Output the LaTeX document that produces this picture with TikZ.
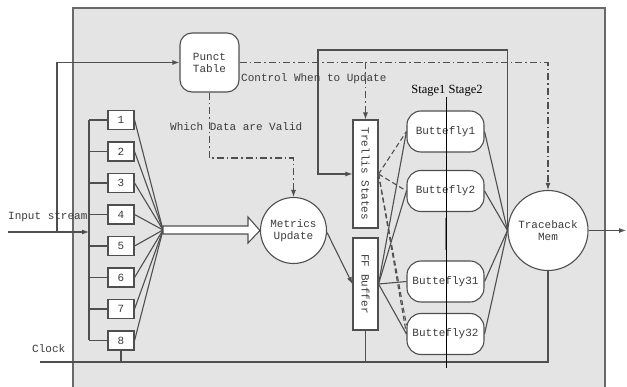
\documentclass[tikz,border=0pt]{standalone}
\usepackage{fontspec}
\setmainfont{Liberation Serif}
\setmonofont{Liberation Mono}
\usepackage{graphicx}
\usetikzlibrary{arrows.meta,calc}
\definecolor{linec}{HTML}{4F4F4F}
\definecolor{panel}{HTML}{E4E4E4}
\definecolor{txtc}{HTML}{3C3C3C}
\begin{document}
\begin{tikzpicture}[x=1pt,y=-1pt,
  ln/.style={draw=linec, line width=1.1pt},
  tip/.style={-{Latex[length=7pt,width=5pt]}},
  dd/.style={draw=linec, line width=1.1pt, dash pattern=on 7pt off 3pt on 1.5pt off 3pt},
  dsh/.style={draw=linec, line width=1.1pt, dash pattern=on 5pt off 3pt},
  mono/.style={font=\ttfamily\fontsize{11}{12}\selectfont, text=txtc},
  numbox/.style={mono, draw=linec, line width=1.1pt, fill=white, minimum width=26pt, minimum height=19pt, inner sep=0pt},
  bfly/.style={mono, draw=linec, line width=1.1pt, fill=white, rounded corners=14pt, minimum width=77pt, minimum height=41pt, inner sep=1pt},
  vbox/.style={mono, draw=linec, line width=1.1pt, fill=white, minimum width=25pt, inner sep=0pt},
  blob/.style={mono, circle, draw=linec, line width=1.1pt, fill=white, align=center, inner sep=0pt},
  lbl/.style={mono, anchor=west, inner sep=0pt}
]
\useasboundingbox (0,0) rectangle (627,387);
\fill[white] (0,0) rectangle (627,387);
% board
\fill[panel] (73,8) rectangle (605,390);
\draw[draw=linec!85, line width=1.1pt] (73,390) -- (73,8) -- (605,8) -- (605,390);

% blocks
\node[mono, draw=linec, line width=1.1pt, fill=white, rounded corners=12pt, minimum width=59pt, minimum height=59pt, align=center, inner sep=0pt] (pt) at (209.5,62.5) {Punct\\Table};
\foreach \i [evaluate=\i as \yy using {120+31.5*(\i-1)}] in {1,...,8}
  \node[numbox] (n\i) at (121,\yy) {\i};
\node[blob, minimum size=66pt] (mu) at (293.5,230.5) {Metrics\\Update};
\node[vbox, minimum height=108pt] (ts) at (365.5,174) {\rotatebox{-90}{Trellis States}};
\node[vbox, minimum height=92pt] (ff) at (365.5,284) {\rotatebox{-90}{FF Buffer}};
\node[bfly] (b1) at (445.5,131.5) {Buttefly1};
\node[bfly] (b2) at (445.5,191) {Buttefly2};
\node[bfly] (b31) at (445.5,281.5) {Buttefly31};
\node[bfly] (b32) at (445.5,334) {Buttefly32};
\node[blob, minimum size=80pt] (tb) at (548,230.5) {Traceback\\Mem};

% named points for free ends and bends
\coordinate (in0) at (8,232);
\coordinate (inj) at (57,232);
\coordinate (busT) at (89,120);
\coordinate (busB) at (89,340.5);
\coordinate (busIn) at (89,232);
\coordinate (fan) at (163,230);
\coordinate (clk) at (40,362);
\coordinate (clkR) at (548,362);
\coordinate (fbL) at (318,50);
\coordinate (wd) at (293.5,158);
\coordinate (out) at (626,230.5);
\coordinate (stT) at (446,97);
\coordinate (stB) at (446,368);
\coordinate (dotT) at (446,218);
\coordinate (dotB) at (446,250);

% input stream and bus
\draw[ln,tip] (in0) -- (busIn);
\draw[ln,tip] (inj) |- (pt.west);
\draw[ln] (busT) -- (busB);
\foreach \i in {1,...,8} {
  \draw[ln] (busT |- n\i.west) -- (n\i.west);
  \draw[ln] (n\i.east) -- (fan);
}
% wide arrow into metrics update
\draw[draw=linec, line width=1.1pt, fill=white]
  (fan) ++(0,-4) -- (248,226) -- (248,217) -- (mu.west) -- (248,243) -- (248,234) -- ($(fan)+(0,4)$) -- cycle;

% clock
\draw[ln] (clk) -- (clkR) -- (tb.south);
\draw[ln] (n8.south) -- (n8.south |- clk);
\draw[ln] (ff.south) -- (ff.south |- clk);

% control lines
\draw[dd,tip] (pt.east) -| (tb.north);
\draw[dd,tip] (ts.north |- pt.east) -- (ts.north);
\draw[dd,tip] (pt.south) |- (wd) -- (mu.north);

% metrics to buffer
\draw[ln,tip] ($(mu.east)+(0,2)$) -- (ff.west);

% feedback to trellis states
\draw[ln,tip] (tb.west) |- (fbL) |- (ts.west);

% stage 1 connections
\foreach \b in {b1,b2,b31,b32}
  \draw[ln] (ff.east) -- (\b.west);
\draw[dsh] (ts.east) -- (b1.west);
\draw[dsh] (ts.east) -- (b2.west);
\draw[dsh] (ts.east) -- ($(b32.west)+(0,-9)$);
\draw[dsh] (ts.east) -- (b32.west);

% stage 2 connections
\foreach \b in {b1,b2,b31,b32}
  \draw[ln] (\b.east) -- (tb.west);

% output
\draw[ln,tip] (tb.east) -- (out);

% stage divider
\draw[gray, line width=1.5pt] (dotT) -- (dotB);
\draw[black, line width=0.9pt] (stT) -- (stB);
\node[font=\fontsize{12.5}{13}\selectfont, inner sep=0pt] (stg) at (447,91) {Stage1 Stage2};

% labels
\node[lbl] (lin) at (8,217) {Input stream};
\node[lbl] (lclk) at (32,349) {Clock};
\node[lbl] (lwd) at (170,127) {Which Data are Valid};
\node[lbl] (lcw) at (241,79) {Control When to Update};
\end{tikzpicture}
\end{document}
